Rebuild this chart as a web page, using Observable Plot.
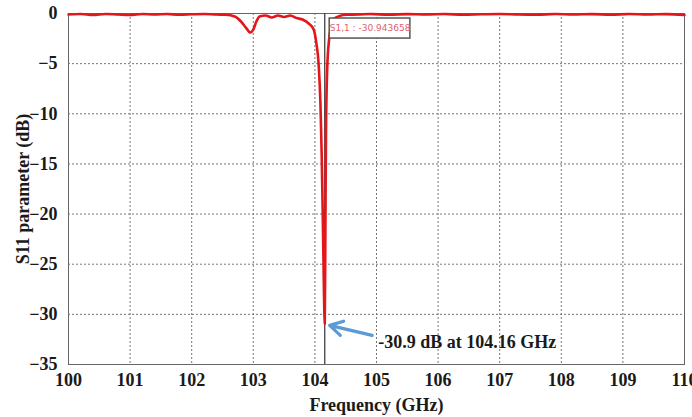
<!DOCTYPE html>
<html>
<head>
<meta charset="utf-8">
<script src="https://cdn.jsdelivr.net/npm/d3@7"></script>
<script src="https://cdn.jsdelivr.net/npm/@observablehq/plot@0.6"></script>
<style>
  html, body { margin: 0; padding: 0; background: #fff; }
  #chart svg { display: block; }
</style>
</head>
<body>
<div id="chart"></div>
<script>
const freq = [100.0,100.2,100.4,100.6,100.8,101.0,101.2,101.4,101.6,101.8,102.0,102.2,102.4,102.55,102.7,102.8,102.88,102.95,103.0,103.05,103.1,103.2,103.3,103.4,103.5,103.6,103.7,103.8,103.9,103.98,104.02,104.06,104.09,104.11,104.13,104.145,104.16,104.17,104.18,104.2,104.23,104.27,104.32,104.4,104.5,104.7,104.9,105.2,105.5,105.8,106.1,106.4,106.7,107.0,107.3,107.6,107.9,108.2,108.5,108.8,109.1,109.4,109.7,110.0];
const s11  = [-0.1,-0.05,-0.15,-0.05,-0.1,-0.15,-0.05,-0.1,-0.05,-0.12,-0.08,-0.05,-0.1,-0.12,-0.3,-0.8,-1.4,-1.9,-1.6,-0.8,-0.3,-0.2,-0.4,-0.2,-0.35,-0.2,-0.45,-0.6,-1.0,-1.6,-2.8,-5,-9,-14,-21,-27,-30.94,-22,-12,-5.5,-2.6,-1.2,-0.5,-0.25,-0.12,-0.1,-0.05,-0.12,-0.06,-0.1,-0.05,-0.12,-0.08,-0.05,-0.1,-0.12,-0.05,-0.1,-0.06,-0.12,-0.05,-0.1,-0.06,-0.15];
const xTicks = [100,101,102,103,104,105,106,107,108,109,110];
const yTicks = [0,-5,-10,-15,-20,-25,-30,-35];
const markerFreq = [104.16];
const markerLabel = ["S1,1 : -30.943658"];
const noteText = ["-30.9 dB at 104.16 GHz"];

const data = freq.map((f, i) => ({f, v: s11[i]}));
const serif = "Liberation Serif, Times New Roman, DejaVu Serif, serif";

const chart = Plot.plot({
  width: 692,
  height: 417,
  marginLeft: 68,
  marginRight: 8,
  marginTop: 13,
  marginBottom: 53,
  style: {fontFamily: serif, background: "#fff", color: "#1a1a1a"},
  x: {domain: [100, 110]},
  y: {domain: [-35, 0]},
  marks: [
    Plot.gridX(xTicks, {stroke: "#777", strokeOpacity: 1, strokeDasharray: "2,2", strokeWidth: 1}),
    Plot.gridY(yTicks, {stroke: "#777", strokeOpacity: 1, strokeDasharray: "2,2", strokeWidth: 1}),
    Plot.frame({stroke: "#666", strokeWidth: 1}),
    Plot.axisX({ticks: xTicks, tickSize: 0, tickPadding: 9, label: "Frequency (GHz)", labelAnchor: "center", labelArrow: "none", labelOffset: 46, fontFamily: serif, fontWeight: "bold", fontSize: 18, fill: "#1a1a1a"}),
    Plot.axisY({ticks: yTicks, tickSize: 0, tickPadding: 11, label: "S11 parameter (dB)", labelAnchor: "center", labelArrow: "none", labelOffset: 52, fontFamily: serif, fontWeight: "bold", fontSize: 18, fill: "#1a1a1a"}),
    Plot.ruleX(markerFreq, {stroke: "#333", strokeWidth: 1.2}),
    Plot.line(data, {x: "f", y: "v", stroke: "#e3161b", strokeWidth: 2.6, curve: "monotone-x"}),
    Plot.rect(markerLabel, {x1: 104.24, x2: 105.55, y1: -0.5, y2: -2.5, fill: "#fff", stroke: "#555", strokeWidth: 1.5}),
    Plot.text(markerLabel, {x: 104.895, y: -1.5, text: d => d, fill: "#e06070", fontFamily: "DejaVu Sans, sans-serif", fontWeight: "normal", fontSize: 9}),
    Plot.arrow(noteText, {x1: 104.93, y1: -32.1, x2: 104.24, y2: -31.1, stroke: "#5b9bd5", strokeWidth: 3.2, headLength: 10}),
    Plot.text(noteText, {x: 105.03, y: -32.8, text: d => d, textAnchor: "start", fontFamily: serif, fontWeight: "bold", fontSize: 18, fill: "#1a1a1a"})
  ]
});
document.getElementById("chart").appendChild(chart);
</script>
</body>
</html>
